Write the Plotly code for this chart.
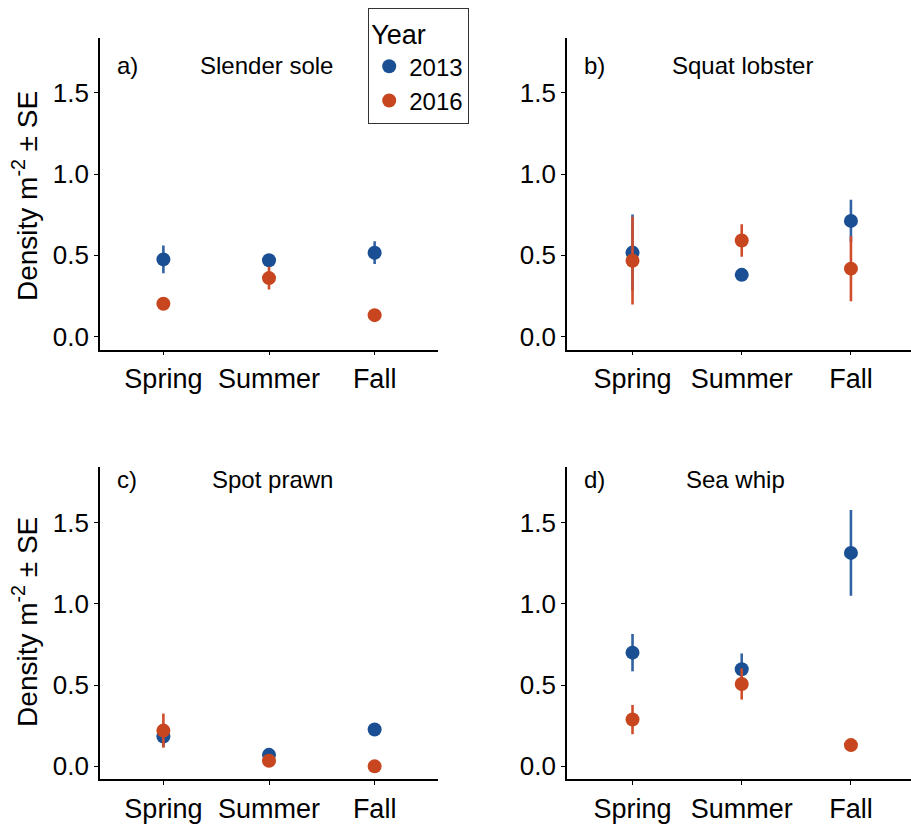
import plotly.graph_objects as go

# Seasonal density (m^-2) with standard errors, by survey year
seasons = ["Spring", "Summer", "Fall"]
years = ["2013", "2016"]

panel_tags = ["a)", "b)", "c)", "d)"]
species = ["Slender sole", "Squat lobster", "Spot prawn", "Sea whip"]

sole_2013 = [0.475, 0.470, 0.516]
sole_2013_se = [0.085, 0.020, 0.070]
sole_2016 = [0.202, 0.360, 0.132]
sole_2016_se = [0.020, 0.070, 0.020]

lobster_2013 = [0.517, 0.380, 0.712]
lobster_2013_se = [0.235, 0.020, 0.130]
lobster_2016 = [0.467, 0.591, 0.418]
lobster_2016_se = [0.270, 0.100, 0.200]

prawn_2013 = [0.184, 0.071, 0.227]
prawn_2013_se = [0.065, 0.020, 0.020]
prawn_2016 = [0.220, 0.035, 0.000]
prawn_2016_se = [0.105, 0.010, 0.010]

whip_2013 = [0.700, 0.598, 1.314]
whip_2013_se = [0.115, 0.097, 0.264]
whip_2016 = [0.288, 0.507, 0.131]
whip_2016_se = [0.090, 0.096, 0.020]

y_ticks = [0.0, 0.5, 1.0, 1.5]

means = [
    (sole_2013, sole_2016),
    (lobster_2013, lobster_2016),
    (prawn_2013, prawn_2016),
    (whip_2013, whip_2016),
]
errors = [
    (sole_2013_se, sole_2016_se),
    (lobster_2013_se, lobster_2016_se),
    (prawn_2013_se, prawn_2016_se),
    (whip_2013_se, whip_2016_se),
]

W, H = 911, 824
FONT = "Liberation Sans, Arial, Helvetica, sans-serif"
marker_colors = {"2013": "#1b4f93", "2016": "#c8461f"}
bar_colors = {"2013": "#3262a3", "2016": "#cf4d2b"}

# panel boxes in pixels: (left, right, top, bottom)
boxes = [
    (100, 438, 38, 353),
    (567, 911, 38, 353),
    (100, 438, 472, 787),
    (567, 911, 472, 787),
]
x_ranges = [[-0.6, 2.6], [-0.6, 2.55], [-0.6, 2.6], [-0.6, 2.55]]
y_range = [-0.08, 1.84]

fig = go.Figure()
layout = {}
for i in range(4):
    ax = "" if i == 0 else str(i + 1)
    l, r, t, b = boxes[i]
    for j, yr in enumerate(years):
        fig.add_trace(go.Scatter(
            x=seasons,
            y=means[i][j],
            error_y=dict(type="data", array=errors[i][j], visible=True,
                         width=0, thickness=2.6, color=bar_colors[yr]),
            mode="markers",
            marker=dict(size=14, color=marker_colors[yr]),
            name=yr,
            legendgroup=yr,
            showlegend=(i == 0),
            xaxis="x" + ax,
            yaxis="y" + ax,
        ))
    layout["xaxis" + ax] = dict(
        domain=[l / W, r / W],
        anchor="y" + ax,
        type="category",
        categoryorder="array",
        categoryarray=seasons,
        range=x_ranges[i],
        showline=True, linecolor="black", linewidth=1.6,
        ticks="outside", ticklen=4, tickwidth=1.4, tickcolor="black",
        showgrid=False, zeroline=False,
        tickfont=dict(size=27, color="black", family=FONT),
    )
    layout["yaxis" + ax] = dict(
        domain=[1 - b / H, 1 - t / H],
        anchor="x" + ax,
        range=y_range,
        tickvals=y_ticks,
        ticktext=[f"{v:.1f}" for v in y_ticks],
        showline=True, linecolor="black", linewidth=1.6,
        ticks="outside", ticklen=4, tickwidth=1.4, tickcolor="black",
        showgrid=False, zeroline=False,
        tickfont=dict(size=26, color="black", family=FONT),
    )

annotations = []
tag_pos = [(115, 66), (582, 66), (115, 484), (582, 484)]
name_pos = [(266, 66), (742, 66), (272, 484), (735, 484)]
for i in range(4):
    tx, ty = tag_pos[i]
    nx, ny = name_pos[i]
    annotations.append(dict(
        x=tx / W, y=1 - ty / H, xref="paper", yref="paper",
        text=panel_tags[i], showarrow=False, xanchor="left", yanchor="middle",
        font=dict(size=24, color="black", family=FONT),
    ))
    annotations.append(dict(
        x=nx / W, y=1 - ny / H, xref="paper", yref="paper",
        text=species[i], showarrow=False, xanchor="center", yanchor="middle",
        font=dict(size=24, color="black", family=FONT),
    ))

# shared y-axis titles on the left column
for cy in (198, 628):
    annotations.append(dict(
        x=25 / W, y=1 - cy / H, xref="paper", yref="paper",
        text="Density m<sup>-2</sup> ± SE", textangle=-90, showarrow=False,
        xanchor="center", yanchor="middle",
        font=dict(size=28, color="black", family=FONT),
    ))

fig.update_layout(
    width=W, height=H,
    margin=dict(l=0, r=0, t=0, b=0),
    paper_bgcolor="white", plot_bgcolor="white",
    annotations=annotations,
    showlegend=True,
    legend=dict(
        x=368 / W, y=1 - 8 / H, xanchor="left", yanchor="top",
        title=dict(text="Year", font=dict(size=27, color="black", family=FONT)),
        font=dict(size=24, color="black", family=FONT),
        bordercolor="#333333", borderwidth=1.2, bgcolor="white",
        itemwidth=30, tracegroupgap=0,
    ),
    **layout,
)

fig.write_html("out.html")
